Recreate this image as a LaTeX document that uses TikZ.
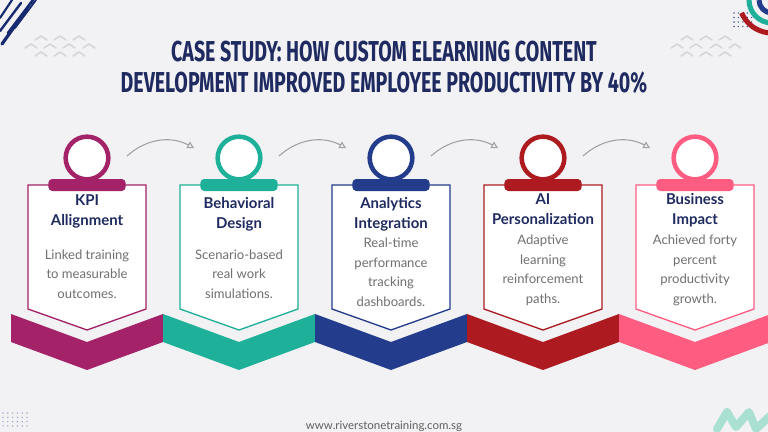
\documentclass[tikz,border=0pt]{standalone}
\usepackage{fontspec}
\setmainfont{Lato}
\newfontfamily\headfont{Fira Sans}[FakeStretch=0.68]
\usetikzlibrary{arrows.meta,positioning}

\definecolor{pagebg}{RGB}{242,242,244}
\definecolor{navy}{RGB}{30,42,96}
\definecolor{bodygrey}{RGB}{112,112,112}
\definecolor{footgrey}{RGB}{95,95,95}
\definecolor{cMag}{RGB}{163,34,104}
\definecolor{cTeal}{RGB}{30,176,152}
\definecolor{cBlue}{RGB}{35,61,140}
\definecolor{cRed}{RGB}{173,27,33}
\definecolor{cPink}{RGB}{255,92,130}
\definecolor{chevgrey}{RGB}{214,214,218}
\definecolor{arrowgrey}{RGB}{160,160,166}
\definecolor{mint}{RGB}{170,224,210}
\definecolor{brush}{RGB}{22,42,112}

\begin{document}
\begin{tikzpicture}[x=0.75pt,y=-0.75pt,>={Triangle[open,length=5pt,width=5.5pt]}]
  \tikzstyle{card}=[fill=white,line width=1pt,line join=miter]
  \tikzstyle{tab}=[rectangle,rounded corners=3pt,minimum width=58pt,minimum height=9pt,inner sep=0pt]
  \tikzstyle{ring}=[circle,fill=white,line width=3.4pt,minimum size=32pt,inner sep=0pt]
  \tikzstyle{head}=[font=\fontsize{11.2}{15}\selectfont\bfseries,text=navy,align=center,anchor=base,inner sep=0pt]
  \tikzstyle{body}=[font=\fontsize{9.8}{14.6}\selectfont,text=bodygrey,align=center,anchor=base,inner sep=0pt]
  \tikzstyle{flow}=[->,arrowgrey,line width=0.8pt,bend left=35]
  \tikzstyle{chev}=[chevgrey,line width=1.2pt,line cap=round,line join=round]

  \useasboundingbox (0,0) rectangle (768,432);
  \fill[pagebg] (0,0) rectangle (768,432);

  % corner decorations
  \draw[brush,line width=2.4pt,line cap=round] (2,44) -- (27,9);
  \draw[brush,line width=1.8pt,line cap=round] (0,31) -- (21,3);
  \draw[brush,line width=2pt,line cap=round] (8,33) -- (33,0);
  \draw[brush,line width=1.4pt,line cap=round] (15,28) -- (36,0);
  \draw[brush,line width=1.6pt,line cap=round] (0,18) -- (12,0);
  \foreach \cx/\cy in {41/37,60/37,79/37,31/45,50/45,69/45,89/45,41/53,60/53,79/53,
                       687/37,706/37,725/37,677/45,696/45,716/45,735/45,687/53,706/53,725/53}
    \draw[chev] ({\cx-6},{\cy+3}) -- (\cx,{\cy-1}) -- ({\cx+6},{\cy+3});
  \foreach \i in {0,...,4}
    \foreach \j in {0,...,3}
      \fill[cBlue!85] ({734+4.4*\i},{13+4.5*\j}) circle[radius=0.8];
  \foreach \i in {0,...,5}
    \foreach \j in {0,...,3}
      \fill[cBlue!45] ({3+4.8*\i},{413+4.3*\j}) circle[radius=0.8];
  \draw[cBlue,line width=3.8pt] (772,0) ++(180:13) arc[start angle=180,end angle=60,radius=13];
  \draw[cTeal,line width=3.8pt] (772,0) ++(180:23) arc[start angle=180,end angle=60,radius=23];
  \draw[cRed,line width=3.8pt] (772,0) ++(157:33) arc[start angle=157,end angle=60,radius=33];
  \draw[mint,line width=6pt,line cap=round,line join=round]
    (717,429) -- (727,412) -- (736,427) -- (749,412) -- (756,429) -- (770,416);

  % title
  \node[font=\headfont\bfseries\fontsize{21.6}{23.25}\selectfont,text=navy,align=center,anchor=base] (title) at (384,92)
    {CASE STUDY: HOW CUSTOM ELEARNING CONTENT\\DEVELOPMENT IMPROVED EMPLOYEE PRODUCTIVITY BY 40\%};

  % ribbon
  \fill[cMag] (11,314) -- (87,342) -- (163,314) -- (163,342) -- (87,370) -- (11,342) -- cycle;
  \fill[cTeal] (163,314) -- (239,342) -- (315,314) -- (315,342) -- (239,370) -- (163,342) -- cycle;
  \fill[cBlue] (315,314) -- (391,342) -- (467,314) -- (467,342) -- (391,370) -- (315,342) -- cycle;
  \fill[cRed] (467,314) -- (543,342) -- (619,314) -- (619,342) -- (543,370) -- (467,342) -- cycle;
  \fill[cPink] (619,314) -- (695,342) -- (771,314) -- (771,342) -- (695,370) -- (619,342) -- cycle;

  % card 1
  \draw[card,draw=cMag] (28,185) -- (146,185) -- (146,309) -- (87,330) -- (28,309) -- cycle;
  \node[tab,fill=cMag] (tab1) at (87,185) {};
  \node[ring,draw=cMag] (ring1) at (87,158) {};
  \node[head] (head1) at (87,225) {KPI\\Allignment};
  \node[body] (text1) at (87,298) {Linked training\\to measurable\\outcomes.};

  % card 2
  \draw[card,draw=cTeal] (180,185) -- (298,185) -- (298,309) -- (239,330) -- (180,309) -- cycle;
  \node[tab,fill=cTeal] (tab2) at (239,185) {};
  \node[ring,draw=cTeal] (ring2) at (239,158) {};
  \node[head] (head2) at (239,228) {Behavioral\\Design};
  \node[body] (text2) at (239,298) {Scenario-based\\real work\\simulations.};

  % card 3
  \draw[card,draw=cBlue] (332,185) -- (450,185) -- (450,309) -- (391,330) -- (332,309) -- cycle;
  \node[tab,fill=cBlue] (tab3) at (391,185) {};
  \node[ring,draw=cBlue] (ring3) at (391,158) {};
  \node[head] (head3) at (391,228) {Analytics\\Integration};
  \node[body] (text3) at (391,306) {Real-time\\performance\\tracking\\dashboards.};

  % card 4
  \draw[card,draw=cRed] (484,185) -- (602,185) -- (602,309) -- (543,330) -- (484,309) -- cycle;
  \node[tab,fill=cRed] (tab4) at (543,185) {};
  \node[ring,draw=cRed] (ring4) at (543,158) {};
  \node[head] (head4) at (543,224) {AI\\Personalization};
  \node[body] (text4) at (543,303) {Adaptive\\learning\\reinforcement\\paths.};

  % card 5
  \draw[card,draw=cPink] (636,185) -- (754,185) -- (754,309) -- (695,330) -- (636,309) -- cycle;
  \node[tab,fill=cPink] (tab5) at (695,185) {};
  \node[ring,draw=cPink] (ring5) at (695,158) {};
  \node[head] (head5) at (695,224) {Business\\Impact};
  \node[body] (text5) at (695,303) {Achieved forty\\percent\\productivity\\growth.};

  % arrows between rings
  \coordinate (a1s) at (127,156); \coordinate (a1e) at (194,148);
  \coordinate (a2s) at (279,156); \coordinate (a2e) at (346,148);
  \coordinate (a3s) at (431,156); \coordinate (a3e) at (498,148);
  \coordinate (a4s) at (583,156); \coordinate (a4e) at (650,148);
  \draw[flow] (a1s) to (a1e);
  \draw[flow] (a2s) to (a2e);
  \draw[flow] (a3s) to (a3e);
  \draw[flow] (a4s) to (a4e);

  % footer
  \node[font=\fontsize{8.6}{10}\selectfont,text=footgrey,anchor=base] (site) at (384,429) {www.riverstonetraining.com.sg};
\end{tikzpicture}
\end{document}
